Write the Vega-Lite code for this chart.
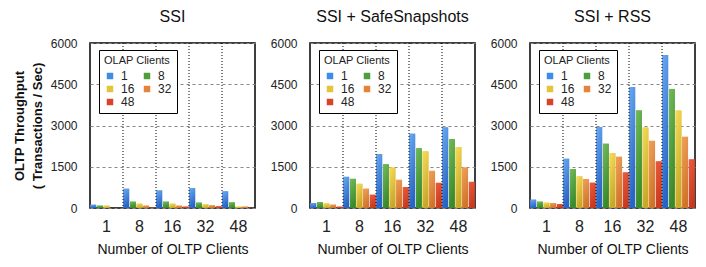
{
  "$schema": "https://vega.github.io/schema/vega-lite/v6.json",
  "padding": {"left": 12, "top": 8, "right": 5, "bottom": 5},
  "config": {
    "font": "Liberation Sans",
    "view": {"stroke": "#000", "strokeWidth": 1.5},
    "title": {"fontSize": 16, "fontWeight": "normal", "color": "#111", "offset": 12},
    "axis": {"labelColor": "#222", "titleColor": "#111"},
    "concat": {"spacing": 13},
    "legend": {"orient": "none", "legendX": 9, "legendY": 7, "columns": 2, "direction": "horizontal", "titleFontSize": 11, "titleFontWeight": "normal", "titleColor": "#222", "titlePadding": 4, "labelFontSize": 12, "labelColor": "#222", "symbolType": "square", "symbolSize": 42, "strokeColor": "#000", "fillColor": "#fff", "padding": 5, "rowPadding": 1, "columnPadding": 6, "symbolStrokeWidth": 0, "labelOffset": 5}
  },
  "data": {"values": [
    {"scheme": "SSI", "oltp": 1, "olap": 1, "tps": 120},
    {"scheme": "SSI", "oltp": 1, "olap": 8, "tps": 85},
    {"scheme": "SSI", "oltp": 1, "olap": 16, "tps": 85},
    {"scheme": "SSI", "oltp": 1, "olap": 32, "tps": 0},
    {"scheme": "SSI", "oltp": 1, "olap": 48, "tps": 0},
    {"scheme": "SSI", "oltp": 8, "olap": 1, "tps": 700},
    {"scheme": "SSI", "oltp": 8, "olap": 8, "tps": 230},
    {"scheme": "SSI", "oltp": 8, "olap": 16, "tps": 157},
    {"scheme": "SSI", "oltp": 8, "olap": 32, "tps": 85},
    {"scheme": "SSI", "oltp": 8, "olap": 48, "tps": 10},
    {"scheme": "SSI", "oltp": 16, "olap": 1, "tps": 640},
    {"scheme": "SSI", "oltp": 16, "olap": 8, "tps": 230},
    {"scheme": "SSI", "oltp": 16, "olap": 16, "tps": 157},
    {"scheme": "SSI", "oltp": 16, "olap": 32, "tps": 85},
    {"scheme": "SSI", "oltp": 16, "olap": 48, "tps": 50},
    {"scheme": "SSI", "oltp": 32, "olap": 1, "tps": 725},
    {"scheme": "SSI", "oltp": 32, "olap": 8, "tps": 195},
    {"scheme": "SSI", "oltp": 32, "olap": 16, "tps": 133},
    {"scheme": "SSI", "oltp": 32, "olap": 32, "tps": 97},
    {"scheme": "SSI", "oltp": 32, "olap": 48, "tps": 60},
    {"scheme": "SSI", "oltp": 48, "olap": 1, "tps": 605},
    {"scheme": "SSI", "oltp": 48, "olap": 8, "tps": 205},
    {"scheme": "SSI", "oltp": 48, "olap": 16, "tps": 50},
    {"scheme": "SSI", "oltp": 48, "olap": 32, "tps": 50},
    {"scheme": "SSI", "oltp": 48, "olap": 48, "tps": 5},
    {"scheme": "SSI + SafeSnapshots", "oltp": 1, "olap": 1, "tps": 180},
    {"scheme": "SSI + SafeSnapshots", "oltp": 1, "olap": 8, "tps": 217},
    {"scheme": "SSI + SafeSnapshots", "oltp": 1, "olap": 16, "tps": 169},
    {"scheme": "SSI + SafeSnapshots", "oltp": 1, "olap": 32, "tps": 120},
    {"scheme": "SSI + SafeSnapshots", "oltp": 1, "olap": 48, "tps": 48},
    {"scheme": "SSI + SafeSnapshots", "oltp": 8, "olap": 1, "tps": 1133},
    {"scheme": "SSI + SafeSnapshots", "oltp": 8, "olap": 8, "tps": 1060},
    {"scheme": "SSI + SafeSnapshots", "oltp": 8, "olap": 16, "tps": 880},
    {"scheme": "SSI + SafeSnapshots", "oltp": 8, "olap": 32, "tps": 700},
    {"scheme": "SSI + SafeSnapshots", "oltp": 8, "olap": 48, "tps": 482},
    {"scheme": "SSI + SafeSnapshots", "oltp": 16, "olap": 1, "tps": 1965},
    {"scheme": "SSI + SafeSnapshots", "oltp": 16, "olap": 8, "tps": 1590},
    {"scheme": "SSI + SafeSnapshots", "oltp": 16, "olap": 16, "tps": 1470},
    {"scheme": "SSI + SafeSnapshots", "oltp": 16, "olap": 32, "tps": 1024},
    {"scheme": "SSI + SafeSnapshots", "oltp": 16, "olap": 48, "tps": 760},
    {"scheme": "SSI + SafeSnapshots", "oltp": 32, "olap": 1, "tps": 2700},
    {"scheme": "SSI + SafeSnapshots", "oltp": 32, "olap": 8, "tps": 2170},
    {"scheme": "SSI + SafeSnapshots", "oltp": 32, "olap": 16, "tps": 2060},
    {"scheme": "SSI + SafeSnapshots", "oltp": 32, "olap": 32, "tps": 1350},
    {"scheme": "SSI + SafeSnapshots", "oltp": 32, "olap": 48, "tps": 915},
    {"scheme": "SSI + SafeSnapshots", "oltp": 48, "olap": 1, "tps": 2930},
    {"scheme": "SSI + SafeSnapshots", "oltp": 48, "olap": 8, "tps": 2505},
    {"scheme": "SSI + SafeSnapshots", "oltp": 48, "olap": 16, "tps": 2217},
    {"scheme": "SSI + SafeSnapshots", "oltp": 48, "olap": 32, "tps": 1470},
    {"scheme": "SSI + SafeSnapshots", "oltp": 48, "olap": 48, "tps": 950},
    {"scheme": "SSI + RSS", "oltp": 1, "olap": 1, "tps": 302},
    {"scheme": "SSI + RSS", "oltp": 1, "olap": 8, "tps": 230},
    {"scheme": "SSI + RSS", "oltp": 1, "olap": 16, "tps": 193},
    {"scheme": "SSI + RSS", "oltp": 1, "olap": 32, "tps": 181},
    {"scheme": "SSI + RSS", "oltp": 1, "olap": 48, "tps": 145},
    {"scheme": "SSI + RSS", "oltp": 8, "olap": 1, "tps": 1790},
    {"scheme": "SSI + RSS", "oltp": 8, "olap": 8, "tps": 1415},
    {"scheme": "SSI + RSS", "oltp": 8, "olap": 16, "tps": 1149},
    {"scheme": "SSI + RSS", "oltp": 8, "olap": 32, "tps": 1052},
    {"scheme": "SSI + RSS", "oltp": 8, "olap": 48, "tps": 919},
    {"scheme": "SSI + RSS", "oltp": 16, "olap": 1, "tps": 2950},
    {"scheme": "SSI + RSS", "oltp": 16, "olap": 8, "tps": 2334},
    {"scheme": "SSI + RSS", "oltp": 16, "olap": 16, "tps": 1995},
    {"scheme": "SSI + RSS", "oltp": 16, "olap": 32, "tps": 1862},
    {"scheme": "SSI + RSS", "oltp": 16, "olap": 48, "tps": 1294},
    {"scheme": "SSI + RSS", "oltp": 32, "olap": 1, "tps": 4401},
    {"scheme": "SSI + RSS", "oltp": 32, "olap": 8, "tps": 3543},
    {"scheme": "SSI + RSS", "oltp": 32, "olap": 16, "tps": 2926},
    {"scheme": "SSI + RSS", "oltp": 32, "olap": 32, "tps": 2442},
    {"scheme": "SSI + RSS", "oltp": 32, "olap": 48, "tps": 1693},
    {"scheme": "SSI + RSS", "oltp": 48, "olap": 1, "tps": 5562},
    {"scheme": "SSI + RSS", "oltp": 48, "olap": 8, "tps": 4329},
    {"scheme": "SSI + RSS", "oltp": 48, "olap": 16, "tps": 3543},
    {"scheme": "SSI + RSS", "oltp": 48, "olap": 32, "tps": 2588},
    {"scheme": "SSI + RSS", "oltp": 48, "olap": 48, "tps": 1765}
  ]},
  "resolve": {"legend": {"color": "independent"}},
  "hconcat": [
    {
      "title": "SSI",
      "width": 165, "height": 165,
      "transform": [{"filter": "datum.scheme === 'SSI'"}],
      "encoding": {
        "x": {"field": "oltp", "type": "ordinal", "scale": {"paddingInner": 0, "paddingOuter": 0},
              "axis": {"labelAngle": 0, "labelFontSize": 16, "ticks": false, "domain": false, "labelPadding": 10, "title": "Number of OLTP Clients", "titleFontSize": 14, "titleFontWeight": "normal", "titlePadding": 8}},
        "xOffset": {"field": "olap", "type": "ordinal", "scale": {"paddingInner": 0.12, "paddingOuter": 0.05}},
        "y": {"field": "tps", "type": "quantitative", "scale": {"domain": [0, 6000], "nice": false},
              "axis": {"values": [0, 1500, 3000, 4500, 6000], "format": "d", "grid": true, "gridDash": [3, 3], "gridColor": "#888", "domain": false, "ticks": false, "labelPadding": 13, "labelFontSize": 12,
                       "title": ["OLTP Throughput", "( Transactions / Sec)"], "titleFontSize": 13, "titleFontWeight": "bold", "titlePadding": 6, "titleLineHeight": 18}}
      },
      "layer": [
        {"mark": {"type": "bar"},
         "encoding": {
           "color": {"field": "olap", "type": "ordinal", "title": "OLAP Clients",
                     "scale": {"domain": [1, 8, 16, 32, 48], "range": ["#3d8ce6", "#4e9e3c", "#e3c53a", "#e3843a", "#d9432a"]}}
         }},
        {"mark": {"type": "bar"},
         "encoding": {
           "fill": {"condition": [
             {"test": "datum.olap === 1", "value": {"gradient": "linear", "x1": 0, "y1": 0, "x2": 0.3, "y2": 1, "stops": [{"offset": 0, "color": "#6aaaf2"}, {"offset": 1, "color": "#2a64c4"}]}},
             {"test": "datum.olap === 8", "value": {"gradient": "linear", "x1": 0, "y1": 0, "x2": 0.3, "y2": 1, "stops": [{"offset": 0, "color": "#74bb5a"}, {"offset": 1, "color": "#3a8a2c"}]}},
             {"test": "datum.olap === 16", "value": {"gradient": "linear", "x1": 0, "y1": 0, "x2": 0.3, "y2": 1, "stops": [{"offset": 0, "color": "#f6dc58"}, {"offset": 1, "color": "#c8a82a"}]}},
             {"test": "datum.olap === 32", "value": {"gradient": "linear", "x1": 0, "y1": 0, "x2": 0.3, "y2": 1, "stops": [{"offset": 0, "color": "#f0a05a"}, {"offset": 1, "color": "#d0742a"}]}}
           ], "value": {"gradient": "linear", "x1": 0, "y1": 0, "x2": 0.3, "y2": 1, "stops": [{"offset": 0, "color": "#ec5a3a"}, {"offset": 1, "color": "#c83a20"}]}}
         }},
        {"mark": {"type": "rule", "color": "#000", "strokeDash": [1, 2], "strokeWidth": 1},
         "transform": [{"filter": "datum.olap === 1 && datum.oltp > 1"}],
         "encoding": {"x": {"field": "oltp", "type": "ordinal", "bandPosition": 0}, "xOffset": null, "y": null}}
      ]
    },
    {
      "title": "SSI + SafeSnapshots",
      "width": 165, "height": 165,
      "transform": [{"filter": "datum.scheme === 'SSI + SafeSnapshots'"}],
      "encoding": {
        "x": {"field": "oltp", "type": "ordinal", "scale": {"paddingInner": 0, "paddingOuter": 0},
              "axis": {"labelAngle": 0, "labelFontSize": 16, "ticks": false, "domain": false, "labelPadding": 10, "title": "Number of OLTP Clients", "titleFontSize": 14, "titleFontWeight": "normal", "titlePadding": 8}},
        "xOffset": {"field": "olap", "type": "ordinal", "scale": {"paddingInner": 0.12, "paddingOuter": 0.05}},
        "y": {"field": "tps", "type": "quantitative", "scale": {"domain": [0, 6000], "nice": false},
              "axis": {"values": [0, 1500, 3000, 4500, 6000], "format": "d", "grid": true, "gridDash": [3, 3], "gridColor": "#888", "domain": false, "ticks": false, "labelPadding": 13, "labelFontSize": 12, "title": null}}
      },
      "layer": [
        {"mark": {"type": "bar"},
         "encoding": {
           "color": {"field": "olap", "type": "ordinal", "title": "OLAP Clients",
                     "scale": {"domain": [1, 8, 16, 32, 48], "range": ["#3d8ce6", "#4e9e3c", "#e3c53a", "#e3843a", "#d9432a"]}}
         }},
        {"mark": {"type": "bar"},
         "encoding": {
           "fill": {"condition": [
             {"test": "datum.olap === 1", "value": {"gradient": "linear", "x1": 0, "y1": 0, "x2": 0.3, "y2": 1, "stops": [{"offset": 0, "color": "#6aaaf2"}, {"offset": 1, "color": "#2a64c4"}]}},
             {"test": "datum.olap === 8", "value": {"gradient": "linear", "x1": 0, "y1": 0, "x2": 0.3, "y2": 1, "stops": [{"offset": 0, "color": "#74bb5a"}, {"offset": 1, "color": "#3a8a2c"}]}},
             {"test": "datum.olap === 16", "value": {"gradient": "linear", "x1": 0, "y1": 0, "x2": 0.3, "y2": 1, "stops": [{"offset": 0, "color": "#f6dc58"}, {"offset": 1, "color": "#c8a82a"}]}},
             {"test": "datum.olap === 32", "value": {"gradient": "linear", "x1": 0, "y1": 0, "x2": 0.3, "y2": 1, "stops": [{"offset": 0, "color": "#f0a05a"}, {"offset": 1, "color": "#d0742a"}]}}
           ], "value": {"gradient": "linear", "x1": 0, "y1": 0, "x2": 0.3, "y2": 1, "stops": [{"offset": 0, "color": "#ec5a3a"}, {"offset": 1, "color": "#c83a20"}]}}
         }},
        {"mark": {"type": "rule", "color": "#000", "strokeDash": [1, 2], "strokeWidth": 1},
         "transform": [{"filter": "datum.olap === 1 && datum.oltp > 1"}],
         "encoding": {"x": {"field": "oltp", "type": "ordinal", "bandPosition": 0}, "xOffset": null, "y": null}}
      ]
    },
    {
      "title": "SSI + RSS",
      "width": 165, "height": 165,
      "transform": [{"filter": "datum.scheme === 'SSI + RSS'"}],
      "encoding": {
        "x": {"field": "oltp", "type": "ordinal", "scale": {"paddingInner": 0, "paddingOuter": 0},
              "axis": {"labelAngle": 0, "labelFontSize": 16, "ticks": false, "domain": false, "labelPadding": 10, "title": "Number of OLTP Clients", "titleFontSize": 14, "titleFontWeight": "normal", "titlePadding": 8}},
        "xOffset": {"field": "olap", "type": "ordinal", "scale": {"paddingInner": 0.12, "paddingOuter": 0.05}},
        "y": {"field": "tps", "type": "quantitative", "scale": {"domain": [0, 6000], "nice": false},
              "axis": {"values": [0, 1500, 3000, 4500, 6000], "format": "d", "grid": true, "gridDash": [3, 3], "gridColor": "#888", "domain": false, "ticks": false, "labelPadding": 13, "labelFontSize": 12, "title": null}}
      },
      "layer": [
        {"mark": {"type": "bar"},
         "encoding": {
           "color": {"field": "olap", "type": "ordinal", "title": "OLAP Clients",
                     "scale": {"domain": [1, 8, 16, 32, 48], "range": ["#3d8ce6", "#4e9e3c", "#e3c53a", "#e3843a", "#d9432a"]}}
         }},
        {"mark": {"type": "bar"},
         "encoding": {
           "fill": {"condition": [
             {"test": "datum.olap === 1", "value": {"gradient": "linear", "x1": 0, "y1": 0, "x2": 0.3, "y2": 1, "stops": [{"offset": 0, "color": "#6aaaf2"}, {"offset": 1, "color": "#2a64c4"}]}},
             {"test": "datum.olap === 8", "value": {"gradient": "linear", "x1": 0, "y1": 0, "x2": 0.3, "y2": 1, "stops": [{"offset": 0, "color": "#74bb5a"}, {"offset": 1, "color": "#3a8a2c"}]}},
             {"test": "datum.olap === 16", "value": {"gradient": "linear", "x1": 0, "y1": 0, "x2": 0.3, "y2": 1, "stops": [{"offset": 0, "color": "#f6dc58"}, {"offset": 1, "color": "#c8a82a"}]}},
             {"test": "datum.olap === 32", "value": {"gradient": "linear", "x1": 0, "y1": 0, "x2": 0.3, "y2": 1, "stops": [{"offset": 0, "color": "#f0a05a"}, {"offset": 1, "color": "#d0742a"}]}}
           ], "value": {"gradient": "linear", "x1": 0, "y1": 0, "x2": 0.3, "y2": 1, "stops": [{"offset": 0, "color": "#ec5a3a"}, {"offset": 1, "color": "#c83a20"}]}}
         }},
        {"mark": {"type": "rule", "color": "#000", "strokeDash": [1, 2], "strokeWidth": 1},
         "transform": [{"filter": "datum.olap === 1 && datum.oltp > 1"}],
         "encoding": {"x": {"field": "oltp", "type": "ordinal", "bandPosition": 0}, "xOffset": null, "y": null}}
      ]
    }
  ]
}
